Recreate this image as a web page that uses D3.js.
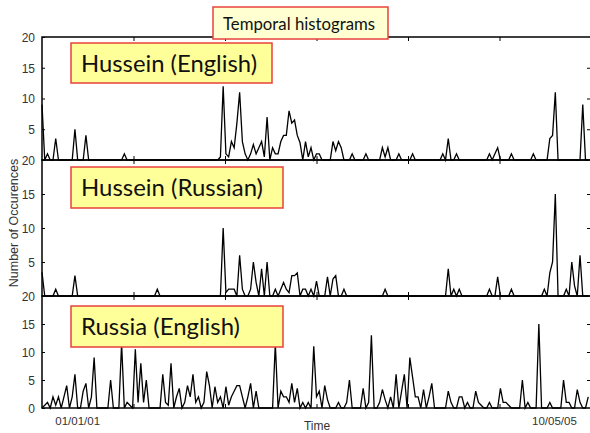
<!DOCTYPE html>
<html><head><meta charset="utf-8">
<script src="https://cdn.jsdelivr.net/npm/d3@7/dist/d3.min.js"></script>
<style>html,body{margin:0;padding:0;background:#fff;overflow:hidden}</style>
</head><body><svg id="c" width="590" height="433"></svg>
<script>
// ---- data (one sample every 3 time units, 200 samples per series) ----
const hussEn = [
 9,0,1,0,0,3.5,0,0,0,0,0,0,5,0,0,0,4,0,0,0,
 0,0,0,0,0,0,0,0,0,0,1,0,0,0,0,0,0,0,0,0,
 0,0,0,0,0,0,0,0,0,0,0,0,0,0,0,0,0,0,0,0,
 0,0,0,0,0,0.5,12,1,0.5,3,2,6,11,3,1,0,1,2.5,1,2,
 3,0.5,7,0,2,1,1,3,4,4,8,6,6.5,4,2.8,0,3,0.5,2,0,
 1,1,0,0,0,0,3,1.5,3,2,0,0,0,1,0,0,0,0,1,0,
 0,0,0,0,2,0.5,2,0,0,0,1,0,0,0,0,1,0,0,0,0,
 0,0,0,0,0,0,1,0,3.5,0,0,1,0,0,0,0,0,0,0,0,
 0,0,0,1,0,1,2,0,0,0,0,1,0,0,0,0,0,0,0,1,
 0,0,0,0,0,3.5,4,11,0,0,0,0,0,0,0,0,0,9,0,0
];
const hussRu = [
 3.5,0,0,0,0,1,0,0,0,0,0,0,3,0,0,0,0,0,0,0,
 0,0,0,0,0,0,0,0,0,0,0,0,0,0,0,0,0,0,0,0,
 0,0,1,0,0,0,0,0,0,0,0,0,0,0,0,0,0,0,0,0,
 0,0,0,0,0,0,10,0.5,1,1,1,0,6,1,0,0,1,5,2,0,
 4,0,5,0,0,1,0,1,2,1,0.5,3,3,3.4,0,1,1,0,1,0,
 2.2,0,0,0,2.8,0,2.5,3,0,0,1,0,0,0,0,0,0,0,0,0,
 0,0,0,0,0,1,0,0,0,0,0,0,0,0,0,0,0,0,0,0,
 0,0,0,0,0,0,0,0,4,0,1,0,1,0,0,0,0,0,0,0,
 0,0,0,1,0,0,2.8,0,0,0,0,1,0,0,0,0,0,0,0,0,
 0,0,0,1,0,3.4,5,15,0,0,0,1,0,5,1.5,0,6,0,0,0
];
const russEn = [
 0,0.5,1,0,2,0.5,2,0,2,4,0,2,6,0,0,3,4.4,0,2,9,
 0,0,0,0,0,5,0,0,0,11.5,0,1,0.5,0,10.5,1,8,1,5,0,
 0,0,0,0,6,1,0.5,8,0,2,3.5,0,1,4,2,6,1,2,0,1,
 6.5,4,0,3.8,1,2,0,3.8,0.5,2,3,4,4,2,0,2,4.4,0,3,0,
 0,0,0,0,0,11.5,0,3,2,2,1,4.4,1,3.5,0,1,0,1,0,11,
 2,3,0,4,1.5,0,0,0,1,0,0,1,5,0,0,0,0,3.5,0,1,
 13,0,0,1,3.3,1.5,0,2,0,6,0,3,6,0,9,5.5,2,2,0,3.3,
 0,2,4.4,0,0,0,0,0,3,1,0,0,2,2,0,1,0,0,3,1,
 0.5,0,0,1,0,0,0,3.5,1,1,0.5,0,0,0,0,5,0,1,0,0,
 0,15,0,0,0,1,0,0,0,0,5,1,1,0,0,3.3,1,0,0,2
];
const sampleStep = 3;
const timeTicks = [100, 200, 300, 400, 500];
const dateLabels = ["01/01/01", "10/05/05"];
const dateLabelTimes = [39, 560];
const panelNames = ["Hussein (English)", "Hussein (Russian)", "Russia (English)"];
const panelTicks = [[5,10,15,20], [5,10,15,20], [0,5,10,15,20]];
const titleText = "Temporal histograms";
const yTitle = "Number of Occurences";
const xTitle = "Time";

// ---- layout ----
const svg = d3.select("#c");
const x = d3.scaleLinear().domain([0, 600]).range([42, 591]);
const layout = [
  {top: 37,  bottom: 160, box: [71, 43, 201, 40],  tx: 81, tb: 72,  tw: 176},
  {top: 160, bottom: 296, box: [71, 167, 212, 41], tx: 81, tb: 196, tw: 182},
  {top: 296, bottom: 408, box: [71, 306, 212, 41], tx: 81, tb: 335, tw: 159}
];
const series = [hussEn, hussRu, russEn];
const axisFont = "'Liberation Sans', Arial, sans-serif";

const gAxes = svg.append("g");
const gLines = svg.append("g");
const gBoxes = svg.append("g");

series.forEach((data, k) => {
  const L = layout[k];
  const y = d3.scaleLinear().domain([0, 20]).range([L.bottom, L.top]);
  // frame
  gAxes.append("rect").attr("x", 42).attr("y", L.top)
    .attr("width", 591 - 42).attr("height", L.bottom - L.top)
    .attr("fill", "none").attr("stroke", "#000").attr("stroke-width", 1.5);
  // left axis
  const ax = gAxes.append("g").attr("transform", "translate(42,0)")
    .call(d3.axisLeft(y).tickValues(panelTicks[k]).tickSize(-3).tickPadding(7));
  ax.select(".domain").remove();
  ax.selectAll("line").attr("stroke", "#000");
  ax.selectAll("text").attr("font-family", axisFont).attr("font-size", 12)
    .attr("fill", "#333").attr("dy", "0.36em");
  // right ticks
  const ar = gAxes.append("g").attr("transform", "translate(591,0)")
    .call(d3.axisRight(y).tickValues([5,10,15]).tickSize(-4).tickFormat(""));
  ar.select(".domain").remove();
  // top / bottom ticks
  const at = gAxes.append("g").attr("transform", `translate(0,${L.top})`)
    .call(d3.axisTop(x).tickValues(timeTicks).tickSize(-4).tickFormat(""));
  at.select(".domain").remove();
  const ab = gAxes.append("g").attr("transform", `translate(0,${L.bottom})`)
    .call(d3.axisBottom(x).tickValues(timeTicks).tickSize(-4).tickFormat(""));
  ab.select(".domain").remove();
  // series line
  const line = d3.line().x((d, i) => x(i * sampleStep)).y(d => y(d));
  gLines.append("path").datum(data).attr("d", line)
    .attr("fill", "none").attr("stroke", "#000").attr("stroke-width", 1.3)
    .attr("stroke-linejoin", "miter");
  // label box
  gBoxes.append("rect").attr("x", L.box[0]).attr("y", L.box[1])
    .attr("width", L.box[2]).attr("height", L.box[3])
    .attr("fill", "#FFFF99").attr("stroke", "#E8413C").attr("stroke-width", 1.5);
  gBoxes.append("text").attr("x", L.tx).attr("y", L.tb)
    .attr("font-family", "Lato, 'Open Sans', sans-serif").attr("font-size", 23)
    .attr("fill", "#111").attr("textLength", L.tw).attr("lengthAdjust", "spacingAndGlyphs")
    .text(panelNames[k]);
});

// title box
gBoxes.append("rect").attr("x", 213).attr("y", 7).attr("width", 175).attr("height", 32)
  .attr("fill", "#FFFFD2").attr("stroke", "#E8413C").attr("stroke-width", 1.5);
gBoxes.append("text").attr("x", 223).attr("y", 29.5)
  .attr("font-family", "Lato, 'Open Sans', sans-serif").attr("font-size", 16.5)
  .attr("fill", "#111").attr("textLength", 152).attr("lengthAdjust", "spacingAndGlyphs")
  .text(titleText);

// date labels
svg.append("g").selectAll("text").data(dateLabels).join("text")
  .attr("x", (d, i) => x(dateLabelTimes[i])).attr("y", 425)
  .attr("text-anchor", "middle").attr("font-family", axisFont).attr("font-size", 11.5)
  .attr("fill", "#333").text(d => d);

// axis titles
svg.append("text").attr("x", 317).attr("y", 430).attr("text-anchor", "middle")
  .attr("font-family", axisFont).attr("font-size", 12).attr("fill", "#333").text(xTitle);
svg.append("text").attr("transform", "translate(18,223) rotate(-90)")
  .attr("text-anchor", "middle").attr("font-family", axisFont).attr("font-size", 12.5)
  .attr("fill", "#333").text(yTitle);
</script></body></html>
